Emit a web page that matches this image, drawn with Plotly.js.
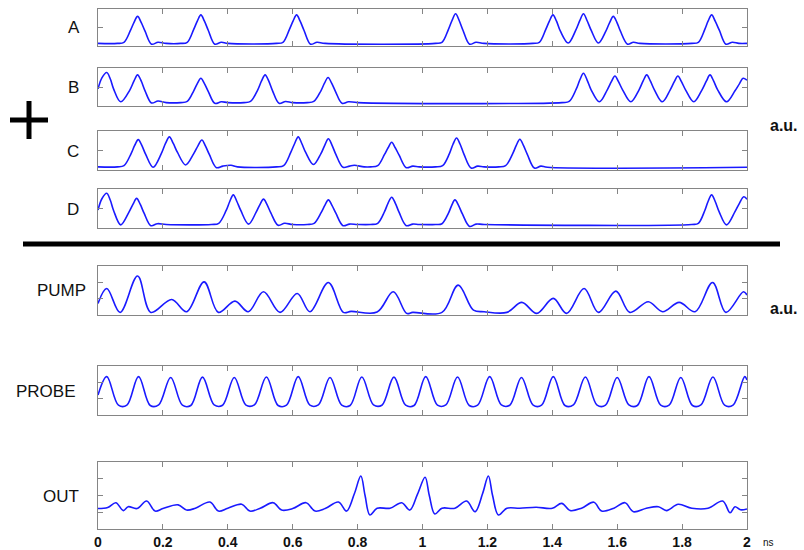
<!DOCTYPE html>
<html>
<head>
<meta charset="utf-8">
<script src="https://cdn.plot.ly/plotly-3.0.1.min.js"></script>
<style>html,body{margin:0;padding:0;background:#fff;}#chart{width:804px;height:550px;}</style>
</head>
<body>
<div id="chart"></div>
<script>
// ---- data (time in ns, amplitude in a.u.) ----
var panelNames = ["A", "B", "C", "D", "PUMP", "PROBE", "OUT"];

var tA = [0,0.06,0.08,0.10,0.111,0.122,0.133,0.145,0.165,0.185,0.21,
  0.255,0.275,0.295,0.306,0.317,0.328,0.34,0.36,0.38,0.40,
  0.55,0.57,0.59,0.601,0.612,0.623,0.635,0.655,0.675,0.70,
  1.04,1.06,1.08,1.091,1.102,1.113,1.125,1.145,1.165,1.19,
  1.34,1.36,1.38,1.391,1.402,1.413,1.425,1.449,1.472,1.485,1.496,1.507,1.52,1.542,1.565,1.577,1.588,1.599,1.61,1.632,1.65,1.67,
  1.83,1.85,1.87,1.88,1.891,1.902,1.915,1.935,1.955,1.975,2.0];
var yA = [0.07,0.07,0.10,0.42,0.64,0.80,0.64,0.40,0.05,0.10,0.07,
  0.07,0.10,0.45,0.67,0.84,0.67,0.42,0.05,0.10,0.07,
  0.07,0.10,0.45,0.67,0.84,0.67,0.42,0.05,0.10,0.07,
  0.07,0.10,0.45,0.69,0.87,0.69,0.42,0.05,0.10,0.07,
  0.07,0.10,0.45,0.67,0.84,0.67,0.40,0.08,0.42,0.69,0.87,0.69,0.42,0.08,0.40,0.64,0.80,0.64,0.40,0.05,0.10,0.07,
  0.07,0.10,0.45,0.67,0.84,0.67,0.42,0.05,0.10,0.07,0.07];

var tB = [0,0.012,0.027,0.038,0.048,0.07,0.098,0.111,0.122,0.133,0.145,0.165,0.185,0.21,
  0.255,0.275,0.295,0.306,0.317,0.328,0.34,0.36,0.38,0.40,
  0.45,0.47,0.492,0.504,0.515,0.526,0.538,0.558,0.578,0.60,
  0.645,0.665,0.687,0.698,0.709,0.72,0.732,0.752,0.772,0.80,
  1.43,1.452,1.474,1.485,1.496,1.507,1.52,1.545,1.569,1.582,1.593,1.604,1.617,1.642,1.667,1.68,1.691,1.702,1.715,1.739,1.763,1.776,1.787,1.798,1.811,1.836,1.861,1.875,1.886,1.897,1.91,1.937,1.963,1.977,1.988,2.0];
var yB = [0.45,0.74,0.88,0.71,0.45,0.11,0.42,0.66,0.82,0.66,0.40,0.08,0.13,0.09,
  0.09,0.12,0.40,0.59,0.73,0.59,0.38,0.07,0.11,0.09,
  0.09,0.12,0.42,0.66,0.82,0.66,0.40,0.07,0.12,0.09,
  0.09,0.12,0.40,0.60,0.75,0.60,0.38,0.07,0.11,0.09,
  0.09,0.12,0.45,0.69,0.86,0.69,0.42,0.11,0.42,0.64,0.79,0.64,0.42,0.11,0.42,0.66,0.82,0.66,0.42,0.11,0.42,0.64,0.79,0.64,0.42,0.11,0.42,0.66,0.82,0.66,0.42,0.11,0.40,0.59,0.73,0.68];

var tC = [0,0.06,0.08,0.102,0.113,0.124,0.135,0.147,0.17,0.195,0.208,0.22,0.232,0.245,0.27,0.295,0.308,0.32,0.331,0.343,0.365,0.385,0.41,0.43,
  0.55,0.572,0.594,0.606,0.617,0.628,0.64,0.664,0.687,0.699,0.71,0.721,0.733,0.755,0.775,0.79,0.82,
  0.84,0.862,0.883,0.894,0.905,0.916,0.928,0.95,0.97,0.99,
  1.04,1.062,1.083,1.094,1.105,1.116,1.128,1.15,1.17,1.19,
  1.235,1.256,1.278,1.289,1.30,1.311,1.323,1.345,1.365,1.385,2.0];
var yC = [0.08,0.08,0.11,0.42,0.63,0.78,0.63,0.40,0.07,0.42,0.68,0.85,0.68,0.45,0.13,0.42,0.62,0.77,0.62,0.40,0.06,0.10,0.12,0.08,
  0.08,0.11,0.45,0.68,0.85,0.68,0.45,0.14,0.42,0.64,0.80,0.64,0.40,0.07,0.10,0.12,0.08,
  0.08,0.11,0.40,0.57,0.71,0.57,0.38,0.06,0.10,0.08,
  0.08,0.11,0.42,0.66,0.82,0.66,0.40,0.05,0.10,0.08,
  0.08,0.11,0.42,0.63,0.79,0.63,0.40,0.05,0.10,0.07,0.07];

var tD = [0,0.012,0.027,0.038,0.048,0.07,0.095,0.108,0.119,0.13,0.142,0.163,0.183,0.21,
  0.35,0.372,0.395,0.406,0.417,0.428,0.44,0.464,0.487,0.499,0.51,0.521,0.533,0.555,0.575,0.60,
  0.645,0.666,0.688,0.699,0.71,0.721,0.733,0.755,0.775,0.80,
  0.84,0.862,0.883,0.894,0.905,0.916,0.928,0.95,0.97,0.99,
  1.04,1.06,1.08,1.09,1.10,1.111,1.123,1.145,1.165,1.19,
  1.83,1.85,1.87,1.88,1.891,1.902,1.914,1.937,1.963,1.977,1.99,2.0];
var yD = [0.46,0.75,0.89,0.71,0.45,0.08,0.40,0.61,0.76,0.61,0.38,0.06,0.11,0.09,
  0.09,0.12,0.45,0.68,0.85,0.68,0.45,0.10,0.40,0.60,0.74,0.60,0.38,0.07,0.12,0.09,
  0.09,0.12,0.40,0.58,0.72,0.58,0.38,0.06,0.10,0.09,
  0.09,0.12,0.42,0.64,0.79,0.64,0.40,0.06,0.10,0.09,
  0.09,0.11,0.38,0.58,0.72,0.58,0.36,0.04,0.10,0.09,
  0.09,0.12,0.45,0.68,0.85,0.68,0.42,0.08,0.42,0.64,0.80,0.74];

var tPump = [0,0.027,0.068,0.122,0.163,0.227,0.273,0.327,0.371,0.422,0.463,0.51,0.561,0.614,0.653,0.71,0.756,0.78,0.86,0.91,0.951,0.97,1.06,1.11,1.157,1.19,1.26,1.306,1.352,1.403,1.444,1.498,1.542,1.596,1.639,1.696,1.74,1.791,1.84,1.894,1.935,1.989,2.0];
var yPump = [0.71,1.62,0.16,2.39,0.16,0.95,0.20,2.03,0.16,0.85,0.20,1.42,0.16,1.32,0.20,1.99,0.16,0.22,0.18,1.42,0.10,0.16,0.16,1.83,0.30,0.20,0.16,0.77,0.10,1.02,0.10,1.62,0.16,1.46,0.16,0.81,0.20,0.77,0.20,1.99,0.16,1.42,1.22];

var tProbe = [0,0.027,0.063,0.089,0.125,0.161,0.187,0.224,0.260,0.286,0.322,0.358,0.384,0.420,0.456,0.482,0.519,0.555,0.581,0.617,0.653,0.679,0.715,0.751,0.777,0.813,0.849,0.875,0.912,0.948,0.974,1.010,1.046,1.072,1.108,1.144,1.170,1.207,1.243,1.269,1.305,1.341,1.367,1.403,1.439,1.465,1.502,1.538,1.564,1.600,1.636,1.662,1.698,1.734,1.760,1.796,1.832,1.858,1.895,1.931,1.957,1.993,2.0];
var yProbe = [1.22,2.35,0.60,0.60,2.35,0.58,0.62,2.30,0.60,0.58,2.32,0.62,0.60,2.30,0.60,0.62,2.33,0.58,0.60,2.35,0.60,0.62,2.30,0.60,0.58,2.33,0.62,0.60,2.32,0.60,0.58,2.35,0.60,0.62,2.33,0.58,0.60,2.35,0.62,0.60,2.30,0.60,0.60,2.35,0.58,0.62,2.33,0.60,0.60,2.30,0.62,0.58,2.35,0.60,0.60,2.30,0.58,0.62,2.33,0.60,0.60,2.35,2.14];

var tOut = [0,0.03,0.055,0.078,0.093,0.12,0.15,0.176,0.20,0.247,0.273,0.30,0.345,0.371,0.40,0.443,0.468,0.50,0.54,0.566,0.60,0.641,0.669,0.70,0.741,0.766,0.79,0.81,0.823,0.838,0.86,0.90,0.936,0.961,0.985,1.008,1.021,1.038,1.06,1.10,1.136,1.162,1.185,1.203,1.216,1.234,1.26,1.30,1.35,1.40,1.429,1.455,1.49,1.528,1.552,1.59,1.624,1.65,1.69,1.727,1.752,1.788,1.83,1.88,1.925,1.948,1.963,1.98,2.0];
var yOut = [1.22,1.28,1.57,1.10,1.33,1.22,1.67,1.07,1.22,1.44,1.13,1.24,1.61,1.07,1.24,1.48,1.07,1.24,1.57,1.13,1.22,1.57,1.07,1.22,1.61,1.07,2.10,3.16,2.00,0.84,1.24,1.24,1.57,1.13,2.10,3.09,2.00,0.90,1.24,1.24,1.67,1.03,2.10,3.16,2.00,0.84,1.24,1.24,1.30,1.24,1.53,1.10,1.24,1.60,1.07,1.24,1.57,1.03,1.24,1.33,1.10,1.48,1.24,1.24,1.67,0.97,1.33,1.15,1.20];

var xTickVals = [0, 0.2, 0.4, 0.6, 0.8, 1, 1.2, 1.4, 1.6, 1.8, 2];
var xTickText = ["0", "0.2", "0.4", "0.6", "0.8", "1", "1.2", "1.4", "1.6", "1.8", "2"];

// ---- layout config ----
var W = 804, H = 550;
var seriesT = [tA, tB, tC, tD, tPump, tProbe, tOut];
var seriesY = [yA, yB, yC, yD, yPump, yProbe, yOut];
var pxTopBottom = [[9, 46], [68, 106], [131, 170], [189, 228], [266, 315], [366, 415], [462, 529]];
var yRanges = [[0, 1], [0, 1], [0, 1], [0, 1], [0, 3], [0, 3], [0, 4]];
var yTicks = [[0.5], [0.5], [0.5], [0.5], [1, 2], [1, 2], [1, 2, 3]];
var xDomain = [98 / W, 747 / W];

var frameCol = "#858585";
var traceCol = "#1a1aff";
var data = [];
var layout = {
  width: W, height: H,
  margin: {l: 0, r: 0, t: 0, b: 0},
  paper_bgcolor: "#ffffff", plot_bgcolor: "#ffffff",
  showlegend: false,
  font: {family: "Liberation Sans, Arial, sans-serif", color: "#111"},
  annotations: [], shapes: []
};

for (var i = 0; i < panelNames.length; i++) {
  var sfx = i === 0 ? "" : String(i + 1);
  data.push({
    x: seriesT[i], y: seriesY[i], type: "scatter", mode: "lines",
    line: {color: traceCol, width: 1.6, shape: "spline", smoothing: 1},
    xaxis: "x" + sfx, yaxis: "y" + sfx, hoverinfo: "skip"
  });
  var last = i === panelNames.length - 1;
  var d0 = 1 - pxTopBottom[i][1] / H, d1 = 1 - pxTopBottom[i][0] / H;
  layout["xaxis" + sfx] = {
    domain: xDomain, anchor: "y" + sfx, range: [0, 2],
    tickvals: xTickVals, ticktext: xTickText,
    showticklabels: last, ticks: "inside", ticklen: 5, tickwidth: 1, tickcolor: frameCol,
    showline: true, linecolor: frameCol, linewidth: 1, mirror: "ticks",
    showgrid: false, zeroline: false, fixedrange: true,
    tickfont: {size: 14, color: "#111", family: "Liberation Sans, Arial, sans-serif", weight: "bold"}
  };
  if (i > 0) layout["xaxis" + sfx].matches = "x";
  layout["yaxis" + sfx] = {
    domain: [d0, d1], anchor: "x" + sfx, range: yRanges[i],
    tickvals: yTicks[i], showticklabels: false,
    ticks: "inside", ticklen: 5, tickwidth: 1, tickcolor: frameCol,
    showline: true, linecolor: frameCol, linewidth: 1, mirror: "ticks",
    showgrid: false, zeroline: false, fixedrange: true
  };
}

// panel labels
var labelPos = [[74, 28, "center"], [73, 87, "center"], [73, 151, "center"], [73, 209, "center"],
                [88, 290, "right"], [78, 391, "right"], [81, 496, "right"]];
for (var j = 0; j < panelNames.length; j++) {
  layout.annotations.push({
    text: panelNames[j], xref: "paper", yref: "paper",
    x: labelPos[j][0] / W, y: 1 - labelPos[j][1] / H,
    xanchor: labelPos[j][2], yanchor: "middle", showarrow: false,
    font: {size: 17, color: "#111", family: "Liberation Sans, Arial, sans-serif"}
  });
}
layout.annotations.push({text: "a.u.", xref: "paper", yref: "paper", x: 800 / W, y: 1 - 125 / H,
  xanchor: "right", yanchor: "middle", showarrow: false,
  font: {size: 16, color: "#111", family: "Liberation Sans, Arial, sans-serif", weight: "bold"}});
layout.annotations.push({text: "a.u.", xref: "paper", yref: "paper", x: 800 / W, y: 1 - 308 / H,
  xanchor: "right", yanchor: "middle", showarrow: false,
  font: {size: 16, color: "#111", family: "Liberation Sans, Arial, sans-serif", weight: "bold"}});
layout.annotations.push({text: "ns", xref: "paper", yref: "paper", x: 761 / W, y: 1 - 542 / H,
  xanchor: "left", yanchor: "middle", showarrow: false,
  font: {size: 10, color: "#111", family: "Liberation Sans, Arial, sans-serif"}});

// separator bar and plus sign
layout.shapes.push({type: "line", xref: "paper", yref: "paper", x0: 23 / W, x1: 780 / W,
  y0: 1 - 244 / H, y1: 1 - 244 / H, line: {color: "#000", width: 5}});
layout.shapes.push({type: "line", xref: "paper", yref: "paper", x0: 10 / W, x1: 48 / W,
  y0: 1 - 120 / H, y1: 1 - 120 / H, line: {color: "#000", width: 5}});
layout.shapes.push({type: "line", xref: "paper", yref: "paper", x0: 29 / W, x1: 29 / W,
  y0: 1 - 101 / H, y1: 1 - 139 / H, line: {color: "#000", width: 5}});

Plotly.newPlot("chart", data, layout, {staticPlot: true, displayModeBar: false});
</script>
</body>
</html>
